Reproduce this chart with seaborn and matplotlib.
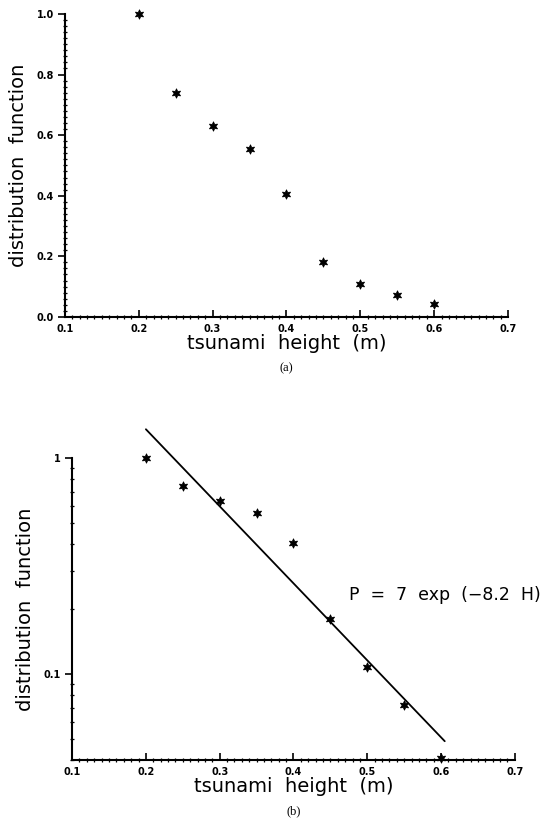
import numpy as np
import pandas as pd
import matplotlib
matplotlib.use("Agg")
import matplotlib.pyplot as plt
import matplotlib.ticker as mticker
import seaborn as sns

# data
height = [0.20, 0.25, 0.30, 0.35, 0.40, 0.45, 0.50, 0.55, 0.60]
dist_fn = [1.00, 0.74, 0.63, 0.555, 0.405, 0.18, 0.108, 0.072, 0.041]
fit_h = [0.20, 0.605]
fit_p = [1.36, 0.049]
x_ticks = [0.1, 0.2, 0.3, 0.4, 0.5, 0.6, 0.7]
y_ticks_a = [0.0, 0.2, 0.4, 0.6, 0.8, 1.0]

def main():
    sns.set_theme(style="ticks", rc={
        "text.color": "black", "axes.labelcolor": "black",
        "xtick.color": "black", "ytick.color": "black",
        "axes.edgecolor": "black",
    })
    plt.rcParams["font.family"] = ["DejaVu Sans"]
    df = pd.DataFrame({"H": height, "P": dist_fn})
    fit_df = pd.DataFrame({"H": fit_h, "P": fit_p})

    fig = plt.figure(figsize=(5.59, 8.21), dpi=100)
    ax_a = fig.add_axes([0.116, 0.614, 0.793, 0.369])
    ax_b = fig.add_axes([0.129, 0.074, 0.792, 0.368])

    star = (6, 1, 0)

    # (a) linear
    sns.scatterplot(data=df, x="H", y="P", ax=ax_a, marker=star, s=45,
                    color="black", edgecolor="black", linewidth=0.6, clip_on=False)
    ax_a.set_xlim(0.1, 0.7)
    ax_a.set_ylim(0.0, 1.0)
    ax_a.set_xticks(x_ticks)
    ax_a.set_yticks(y_ticks_a)
    ax_a.xaxis.set_minor_locator(mticker.MultipleLocator(0.01))
    ax_a.yaxis.set_minor_locator(mticker.MultipleLocator(0.02))
    ax_a.xaxis.set_major_formatter(mticker.FormatStrFormatter("%.1f"))
    ax_a.yaxis.set_major_formatter(mticker.FormatStrFormatter("%.1f"))

    # (b) log
    sns.lineplot(data=fit_df, x="H", y="P", ax=ax_b, color="black", linewidth=1.3,
                 clip_on=False)
    sns.scatterplot(data=df, x="H", y="P", ax=ax_b, marker=star, s=45,
                    color="black", edgecolor="black", linewidth=0.6, clip_on=False)
    ax_b.set_yscale("log")
    ax_b.set_xlim(0.1, 0.7)
    ax_b.set_ylim(0.04, 1.0)
    ax_b.set_xticks(x_ticks)
    ax_b.xaxis.set_minor_locator(mticker.MultipleLocator(0.01))
    ax_b.xaxis.set_major_formatter(mticker.FormatStrFormatter("%.1f"))
    ax_b.yaxis.set_major_locator(mticker.FixedLocator([0.1, 1.0]))
    ax_b.yaxis.set_major_formatter(mticker.FixedFormatter(["0.1", "1"]))
    ax_b.yaxis.set_minor_locator(mticker.LogLocator(base=10, subs=np.arange(2, 10)))
    ax_b.yaxis.set_minor_formatter(mticker.NullFormatter())
    ax_b.text(0.475, 0.232, "P  =  7  exp  (\u22128.2  H)", fontsize=12.5,
              ha="left", va="center")

    for ax, tag in [(ax_a, "(a)"), (ax_b, "(b)")]:
        sns.despine(ax=ax)
        ax.spines["left"].set_linewidth(1.5)
        ax.spines["bottom"].set_linewidth(1.5)
        ax.tick_params(axis="both", which="major", labelsize=7, width=1.2, length=5, pad=3)
        ax.tick_params(axis="x", which="major", direction="in", pad=5)
        ax.tick_params(axis="both", which="minor", direction="inout", length=3, width=0.9)
        for lbl in ax.get_xticklabels() + ax.get_yticklabels():
            lbl.set_fontweight("bold")
        ax.set_xlabel("tsunami  height  (m)", fontsize=14, labelpad=0)
        ax.set_ylabel("distribution  function", fontsize=14, labelpad=6)
        ax.text(0.5, -0.17, tag, transform=ax.transAxes, ha="center", va="center",
                fontsize=9, family="Liberation Serif")

    fig.savefig("out.png", dpi=100)
    plt.close(fig)

if __name__ == "__main__":
    main()
